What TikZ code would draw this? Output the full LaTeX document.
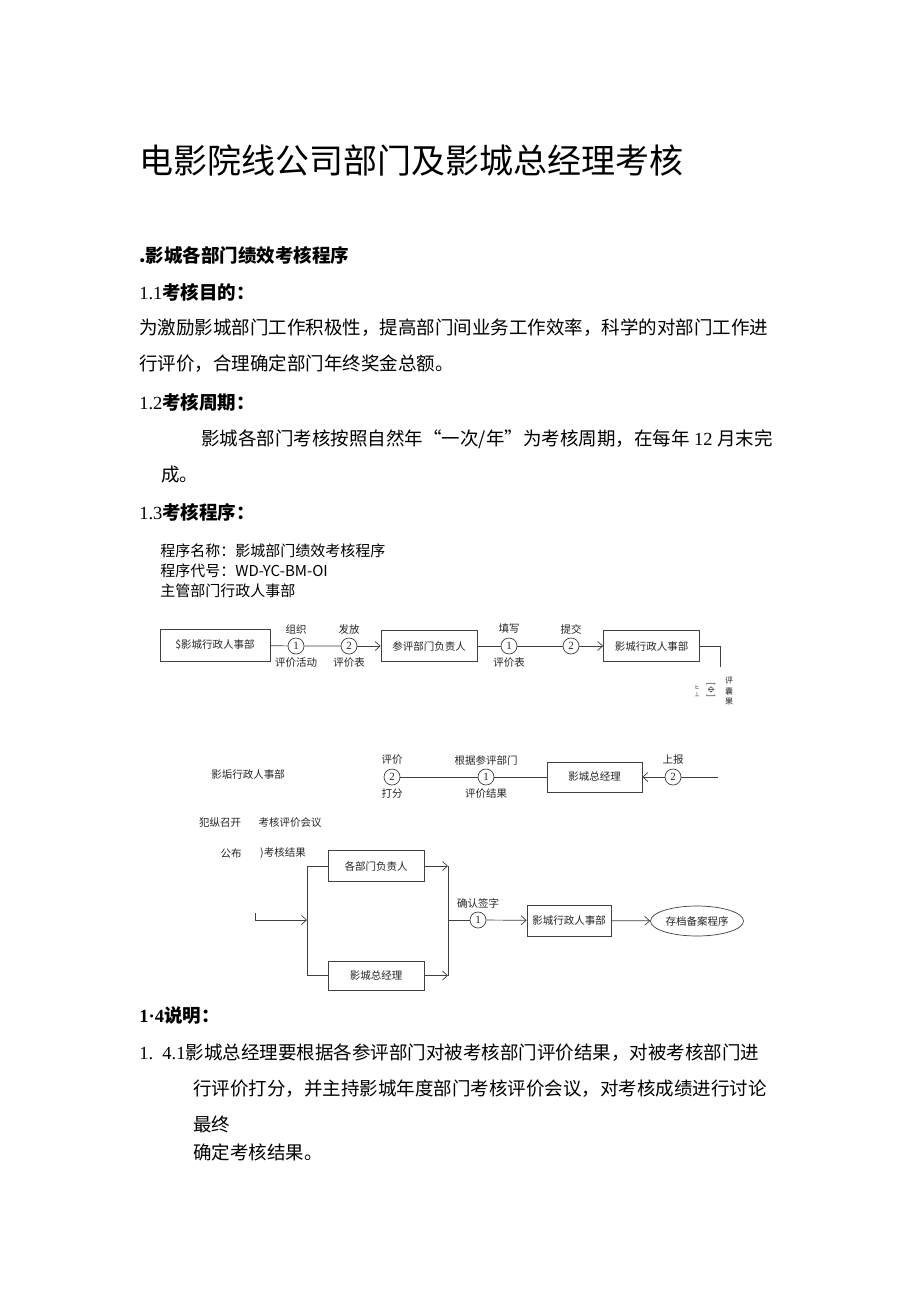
\documentclass[tikz,border=0pt]{standalone}
\usepackage{fontspec}
\setmainfont{Noto Sans CJK SC}
\newfontfamily\numfont{Liberation Serif}
\usetikzlibrary{positioning,shapes.geometric,arrows.meta}

\begin{document}
\begin{tikzpicture}[x=1pt,y=-1pt,->,>={Straight Barb[length=5pt,width=9pt]},line width=0.7pt,draw=black!75,node distance=17pt,
    body/.style={anchor=west,inner sep=0pt,font=\fontsize{18.5}{22}\selectfont},
    head/.style={body,font=\fontsize{18.5}{22}\selectfont\bfseries},
    info/.style={anchor=west,inner sep=0pt,font=\fontsize{15}{18}\selectfont},
    lbl/.style={inner sep=0pt,text=black!85,font=\fontsize{10.5}{12}\selectfont},
    box/.style={rectangle,draw=black!75,inner sep=0pt,minimum width=96pt,minimum height=31pt,text=black!85,font=\fontsize{10.5}{12}\selectfont},
    num/.style={circle,draw=black!75,inner sep=0pt,minimum size=16pt,text=black!85,font=\numfont\fontsize{11}{12}\selectfont}]
    \path[fill=white] (0,0) rectangle (920,1301);
    \useasboundingbox (0,0) rectangle (920,1301);

    % text of the page
    \node[body,font=\fontsize{34}{40}\selectfont] (title) at (139,160) {电影院线公司部门及影城总经理考核};
    \node[head] (s1) at (139,255) {.影城各部门绩效考核程序};
    \node[head] (s11) at (139,292) {{\numfont\mdseries 1.1}考核目的：};
    \node[body] (p1) at (139,328) {为激励影城部门工作积极性，提高部门间业务工作效率，科学的对部门工作进};
    \node[body] (p2) at (139,364) {行评价，合理确定部门年终奖金总额。};
    \node[head] (s12) at (139,402) {{\numfont\mdseries 1.2}考核周期：};
    \node[body] (p3) at (201,439) {影城各部门考核按照自然年“一次/年”为考核周期，在每年{\numfont\ 12 }月末完};
    \node[body] (p4) at (161,475) {成。};
    \node[head] (s13) at (139,512) {{\numfont\mdseries 1.3}考核程序：};
    \node[head] (s14) at (139,1016) {{\numfont 1·4}说明：};
    \node[body] (p5) at (139,1053) {{\numfont 1.\ \ 4.1}影城总经理要根据各参评部门对被考核部门评价结果，对被考核部门进};
    \node[body] (p6) at (193,1089) {行评价打分，并主持影城年度部门考核评价会议，对考核成绩进行讨论};
    \node[body] (p7) at (193,1124) {最终};
    \node[body] (p8) at (193,1152) {确定考核结果。};

    % procedure header
    \node[info] (name) at (160,551) {程序名称：影城部门绩效考核程序};
    \node[info] (code) at (160,571) {程序代号：WD-YC-BM-OI};
    \node[info] (owner) at (160,591) {主管部门行政人事部};

    % first row
    \node[box,minimum width=110pt,minimum height=32pt] (hr1) at (215,645) {\$影城行政人事部};
    \node[num] (c11) at (296,646) {1};
    \node[lbl] (c11a) [above of=c11] {组织};
    \node[lbl] (c11b) [below of=c11] {评价活动};
    \node[num] (c12) at (349,646) {2};
    \node[lbl] (c12a) [above of=c12] {发放};
    \node[lbl] (c12b) [below of=c12] {评价表};
    \node[box] (dept) at (429,646) {参评部门负责人};
    \node[num] (c13) at (509,646) {1};
    \node[lbl] (c13a) [above of=c13] {填写};
    \node[lbl] (c13b) [below of=c13] {评价表};
    \node[num] (c14) at (571,646) {2};
    \node[lbl] (c14a) [above of=c14] {提交};
    \node[box] (hr2) at (651.5,646) {影城行政人事部};
    \coordinate (t1) at (720,646);
    \coordinate (t2) at (720,667);
    \node[lbl,font=\fontsize{8}{8.5}\selectfont] (v1) at (729,691) {\shortstack{评\\囊\\果}};
    \node[lbl,rotate=-90,font=\fontsize{9}{10}\selectfont] (v2) at (711,690) {[\,$\Phi$\,]};
    \node[lbl,font=\fontsize{5}{6}\selectfont] (v3) at (697,691) {\shortstack{ヒ\\丄}};

    \draw[-] (hr1) -- (c11) -- (c12);
    \draw (c12) -- (dept);
    \draw[-] (dept) -- (c13) -- (c14);
    \draw (c14) -- (hr2);
    \draw[-] (hr2) -- (t1) -- (t2);

    % second row
    \node[lbl] (hr3) at (248,775) {影垢行政人事部};
    \node[num] (c21) at (392,777) {2};
    \node[lbl] (c21a) [above of=c21] {评价};
    \node[lbl] (c21b) [below of=c21] {打分};
    \node[num] (c22) at (486,777) {1};
    \node[lbl] (c22a) [above of=c22] {根据参评部门};
    \node[lbl] (c22b) [below of=c22] {评价结果};
    \node[box,minimum width=95pt,minimum height=30pt] (gm1) at (594.5,777) {影城总经理};
    \node[num] (c23) at (673,777) {2};
    \node[lbl] (c23a) [above of=c23] {上报};
    \coordinate (t3) at (718,777);

    \draw[-] (c21) -- (c22) -- (gm1);
    \draw[-] (t3) -- (c23);
    \draw (c23) -- (gm1);

    \node[lbl] (meet1) at (220,823) {犯纵召开};
    \node[lbl] (meet2) at (290,823) {考核评价会议};
    \node[lbl] (pub1) at (231,853) {公布};
    \node[lbl] (pub2) at (283,853) {)考核结果};

    % third row
    \node[box] (heads) at (376,866) {各部门负责人};
    \node[box,minimum height=29pt] (gm2) at (376,975.5) {影城总经理};
    \coordinate (sp) at (307,920);
    \coordinate (in0) at (255,913);
    \coordinate (jn) at (448,920);
    \node[num] (c31) at (478,920) {1};
    \node[lbl] (c31a) [above of=c31] {确认签字};
    \node[box,minimum width=84pt] (hr4) at (569,920.5) {影城行政人事部};
    \node[ellipse,draw=black!75,inner sep=0pt,minimum width=93pt,minimum height=30pt,text=black!85,font=\fontsize{10.5}{12}\selectfont] (arch) at (697,921) {存档备案程序};

    \draw (in0) |- (sp);
    \draw[-] (heads.west) -- (heads.west -| sp) -- (gm2.west -| sp) -- (gm2.west);
    \draw (heads) -- (heads -| jn);
    \draw (gm2) -- (gm2 -| jn);
    \draw[-] (heads -| jn) -- (gm2 -| jn);
    \draw[-] (jn) -- (c31);
    \draw (c31) -- (hr4);
    \draw (hr4) -- (arch);
\end{tikzpicture}
\end{document}
